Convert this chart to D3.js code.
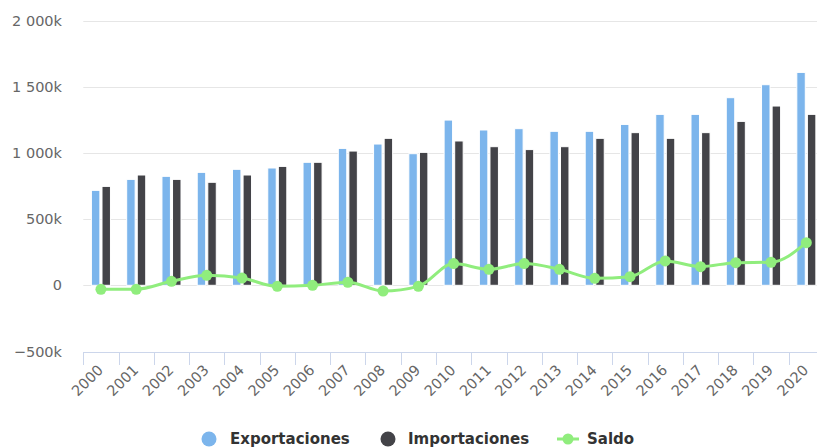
<!DOCTYPE html>
<html><head><meta charset="utf-8">
<script src="https://cdn.jsdelivr.net/npm/d3@7"></script>
<style>body{margin:0;background:#fff;overflow:hidden}svg{display:block}</style>
</head><body>
<script>
const years = ["2000","2001","2002","2003","2004","2005","2006","2007","2008","2009","2010","2011","2012","2013","2014","2015","2016","2017","2018","2019","2020"];
const exportaciones = [717,800,823,853,876,886,929,1034,1067,994,1248,1173,1183,1163,1163,1215,1291,1291,1417,1515,1608];
const importaciones = [747,833,800,778,833,898,929,1014,1110,1004,1090,1047,1025,1047,1110,1153,1110,1153,1238,1354,1291];
const saldo = [-30,-30,30,75,55,-8,0,23,-43,-8,164,121,164,121,53,65,184,141,171,174,322];
const yTicks = [-500,0,500,1000,1500,2000];
const seriesNames = ["Exportaciones","Importaciones","Saldo"];
const colors = ["#7cb5ec","#434348","#90ed7d"];

const W=817,H=448;
const svg=d3.select("body").append("svg").attr("width",W).attr("height",H);
const font="'DejaVu Sans', sans-serif";
const x0=83.3, plotW=35.27*21;
const x=d3.scaleBand().domain(years).range([x0,x0+plotW]).paddingInner(0).paddingOuter(0);
const y=d3.scaleLinear().domain([-500,2000]).range([351.5,20.5]);
const fmt=v=>v===0?"0":(v<0?"−":"")+d3.format(",")(Math.abs(v)).replace(/,/g," ")+"k";

// grid
svg.append("g").selectAll("line").data(yTicks.filter(t=>t!==-500)).join("line")
 .attr("x1",x0).attr("x2",W).attr("y1",d=>Math.round(y(d))+0.5).attr("y2",d=>Math.round(y(d))+0.5)
 .attr("stroke","#e6e6e6");
// y labels
svg.append("g").selectAll("text").data(yTicks).join("text")
 .attr("x",62).attr("y",d=>y(d)+5).attr("text-anchor","end")
 .attr("font-family",font).attr("font-size",14.5).attr("fill","#666").text(fmt);

// bars
const bw=x.bandwidth();
const gp=bw*0.2, inner=bw-2*gp, pw=inner/2, pp=pw*0.1;
[exportaciones,importaciones].forEach((arr,si)=>{
  svg.append("g").selectAll("rect").data(arr).join("rect")
   .attr("x",(d,i)=>x(years[i])+gp+si*pw+pp)
   .attr("width",pw-2*pp)
   .attr("y",d=>y(Math.max(0,d)))
   .attr("height",d=>Math.abs(y(d)-y(0)))
   .attr("fill",colors[si]).attr("stroke","#fff").attr("stroke-width",1);
});

// x axis
const axY=352;
svg.append("line").attr("x1",x0).attr("x2",x0+plotW).attr("y1",axY+0.5).attr("y2",axY+0.5).attr("stroke","#ccd6eb");
svg.append("g").selectAll("line").data(years.concat(["end"])).join("line")
 .attr("x1",(d,i)=>Math.round(x0+i*bw)+0.5).attr("x2",(d,i)=>Math.round(x0+i*bw)+0.5)
 .attr("y1",axY).attr("y2",axY+13).attr("stroke","#ccd6eb");
svg.append("g").selectAll("text").data(years).join("text")
 .attr("transform",d=>`translate(${x(d)+bw/2+3},${axY+19}) rotate(-45)`)
 .attr("text-anchor","end").attr("font-family",font).attr("font-size",14.5).attr("fill","#666").text(d=>d);

// saldo line
const cx=i=>x(years[i])+bw/2;
svg.append("path").datum(saldo)
 .attr("d",d3.line().x((d,i)=>cx(i)).y(d=>y(d)).curve(d3.curveMonotoneX))
 .attr("fill","none").attr("stroke",colors[2]).attr("stroke-width",3);
svg.append("g").selectAll("circle").data(saldo).join("circle")
 .attr("cx",(d,i)=>cx(i)).attr("cy",d=>y(d)).attr("r",5.5).attr("fill",colors[2]);

// legend
const ly=439;
const lg=svg.append("g").attr("font-family",font).attr("font-size",15).attr("font-weight","bold").attr("fill","#333");
const items=[{sx:209,tx:230},{sx:388,tx:408},{sx:568,tx:587}];
items.forEach((it,i)=>{
  if(i<2){
    lg.append("circle").attr("cx",it.sx).attr("cy",ly).attr("r",7.5).attr("fill",colors[i]);
  } else {
    lg.append("line").attr("x1",it.sx-11).attr("x2",it.sx+11).attr("y1",ly).attr("y2",ly).attr("stroke",colors[2]).attr("stroke-width",3);
    lg.append("circle").attr("cx",it.sx).attr("cy",ly).attr("r",5.5).attr("fill",colors[2]);
  }
  lg.append("text").attr("x",it.tx).attr("y",ly+5).text(seriesNames[i]);
});
</script>
</body></html>
